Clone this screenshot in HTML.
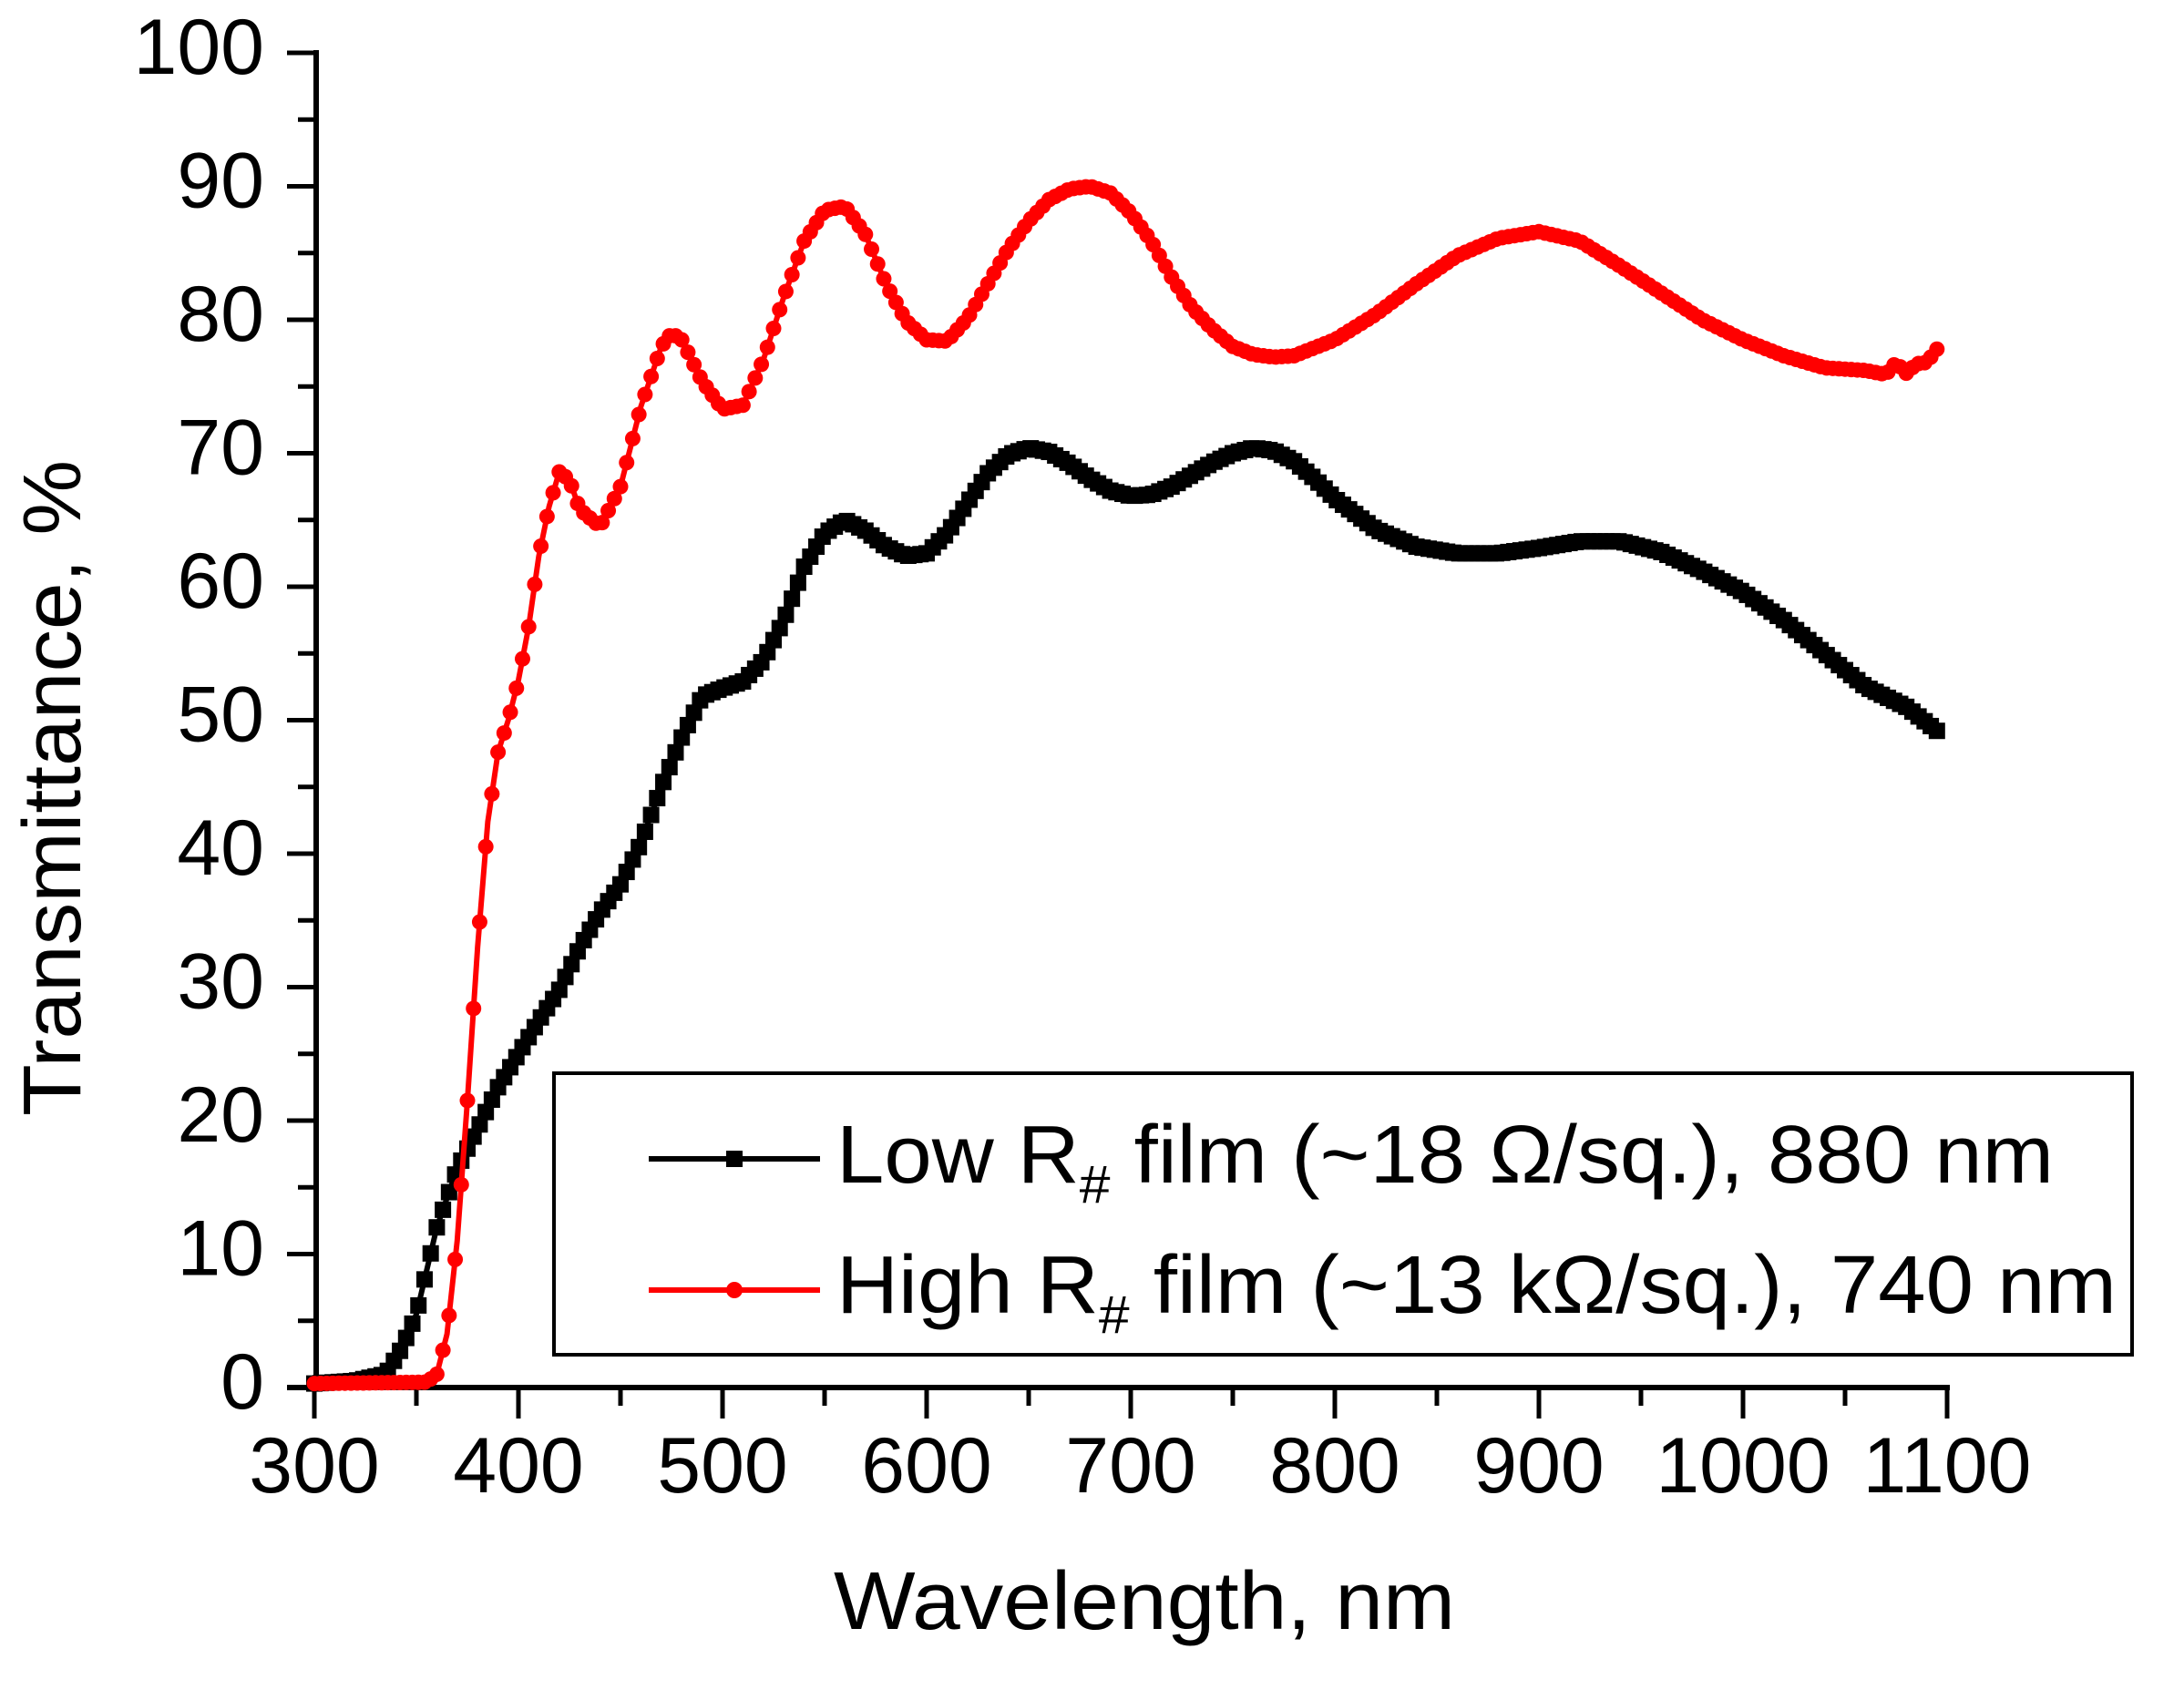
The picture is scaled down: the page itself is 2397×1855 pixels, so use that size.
<!DOCTYPE html>
<html><head><meta charset="utf-8"><style>html,body{margin:0;padding:0;background:#fff}svg{display:block}</style></head>
<body>
<svg id="s" width="2397" height="1855" viewBox="0 0 2397 1855" xmlns="http://www.w3.org/2000/svg" font-family="Liberation Sans, Arial, sans-serif">
<rect width="2397" height="1855" fill="#fff"/>
<g id="axes"></g>
<g id="data"></g>
<rect x="608" y="1178" width="1732" height="309" fill="#fff" stroke="#000" stroke-width="4"/>
<line x1="712" y1="1272" x2="900" y2="1272" stroke="#000" stroke-width="6"/>
<rect x="797" y="1263" width="18" height="18" fill="#000"/>
<line x1="712" y1="1416" x2="900" y2="1416" stroke="#f00" stroke-width="6"/>
<circle cx="806" cy="1416" r="9" fill="#f00"/>
<text x="918" y="1298" font-size="90" textLength="1336" lengthAdjust="spacingAndGlyphs">Low R<tspan font-size="58" dy="22">#</tspan><tspan dy="-22"> film (~18 Ω/sq.), 880 nm</tspan></text>
<text x="918" y="1441" font-size="90" textLength="1405" lengthAdjust="spacingAndGlyphs">High R<tspan font-size="58" dy="22">#</tspan><tspan dy="-22"> film (~13 kΩ/sq.), 740 nm</tspan></text>
<text x="1256" y="1788" font-size="90" text-anchor="middle" textLength="682" lengthAdjust="spacingAndGlyphs">Wavelength, nm</text>
<text transform="translate(88,865) rotate(-90)" font-size="90" text-anchor="middle" textLength="720" lengthAdjust="spacingAndGlyphs">Transmittance, %</text>
</svg>
<script>
var NS="http://www.w3.org/2000/svg";
function X(n){return 345+(n-300)*2.24;}
function Y(v){return 1523-v*14.65;}
function el(p,t,a,txt){var e=document.createElementNS(NS,t);for(var k in a)e.setAttribute(k,a[k]);if(txt!==undefined)e.textContent=txt;p.appendChild(e);return e;}
var ax=document.getElementById('axes');
el(ax,'line',{x1:347,y1:55,x2:347,y2:1526,stroke:'#000','stroke-width':6});
el(ax,'line',{x1:315,y1:1523,x2:2140,y2:1523,stroke:'#000','stroke-width':6});
for(var v=0;v<=100;v+=5){var y=Y(v);var maj=v%10==0;
 el(ax,'line',{x1:maj?315:327,y1:y,x2:347,y2:y,stroke:'#000','stroke-width':5});
 if(maj)el(ax,'text',{x:290,y:y+23,'font-size':86,'text-anchor':'end'},String(v));}
for(var n=300;n<=1100;n+=50){var x=X(n);var maj=n%100==0;
 el(ax,'line',{x1:x,y1:1523,x2:x,y2:maj?1557:1543,stroke:'#000','stroke-width':5});
 if(maj)el(ax,'text',{x:x,y:1638,'font-size':86,'text-anchor':'middle'},String(n));}
var blk=[[300,0.3],[320,0.5],[335,1],[343,3],[350,5.5],[360,12],[370,16.4],[380,19.4],[390,22.5],[400,25],[410,27.5],[420,29.8],[430,33],[440,35.6],[450,37.7],[460,40.8],[470,45],[480,48.7],[490,51.8],[500,52.4],[510,52.9],[520,54.5],[530,57.5],[540,61.5],[550,64],[560,65],[570,64.2],[580,63],[590,62.3],[600,62.5],[610,64],[620,66.3],[630,68.5],[640,69.9],[650,70.4],[660,70.1],[670,69.2],[680,68.1],[690,67.2],[700,66.8],[710,66.9],[720,67.5],[730,68.4],[740,69.3],[750,70],[760,70.4],[770,70.2],[780,69.4],[790,68.1],[800,66.6],[820,64.3],[840,63],[860,62.5],[880,62.5],[900,62.9],[920,63.4],[940,63.4],[960,62.6],[980,61.2],[1000,59.6],[1020,57.5],[1040,55],[1060,52.5],[1080,51],[1095,49.2]];
var red=[[300,0.3],[355,0.4],[360,1],[365,4],[370,11],[375,21.5],[380,33],[385,42.4],[390,47.6],[395,50],[400,53],[405,57],[410,62.3],[415,66],[420,68.6],[425,68],[430,65.8],[440,64.5],[450,67.5],[460,73.5],[470,78],[475,79],[480,78.5],[490,75.4],[500,73.3],[510,73.6],[520,77],[530,81.7],[540,85.9],[550,88.2],[560,88.5],[570,86.4],[580,82.7],[590,79.9],[600,78.5],[610,78.4],[620,80.1],[630,82.7],[640,85.3],[650,87.4],[660,89],[670,89.8],[680,90],[690,89.5],[700,88],[710,85.9],[720,83.2],[730,80.9],[740,79.3],[750,78],[760,77.4],[770,77.2],[780,77.3],[800,78.5],[820,80.4],[840,82.7],[860,84.8],[880,86.1],[900,86.6],[920,85.9],[940,84],[960,82],[980,80],[1000,78.5],[1020,77.3],[1040,76.4],[1060,76.2],[1070,75.9],[1075,76.8],[1080,76],[1085,76.7],[1090,76.8],[1095,77.8]];
function interp(d,n){for(var i=0;i<d.length-1;i++){if(n>=d[i][0]&&n<=d[i+1][0]){var t=(n-d[i][0])/(d[i+1][0]-d[i][0]);return d[i][1]+t*(d[i+1][1]-d[i][1]);}}return d[d.length-1][1];}
var g=document.getElementById('data');
function draw(d,col,mk){var pts=[];for(var n=300;n<=1095;n+=2.5)pts.push(X(n).toFixed(1)+','+Y(interp(d,n)).toFixed(1));
 el(g,'polyline',{points:pts.join(' '),fill:'none',stroke:col,'stroke-width':6,'stroke-linejoin':'round'});
 for(var n=300;n<=1095;n+=3){var x=X(n),y=Y(interp(d,n));
  if(mk=='s')el(g,'rect',{x:x-9,y:y-9,width:18,height:18,fill:col});else el(g,'circle',{cx:x,cy:y,r:8.5,fill:col});}}
draw(blk,'#000','s');draw(red,'#f00','c');
</script>
</body></html>
